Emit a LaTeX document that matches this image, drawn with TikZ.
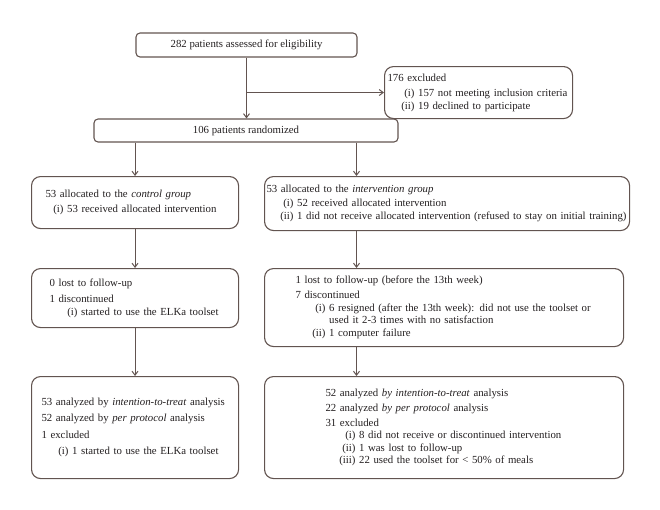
\documentclass[tikz,border=0pt]{standalone}
\usepackage{fontspec}
\setmainfont{Liberation Serif}
\usetikzlibrary{arrows.meta}
\definecolor{boxline}{RGB}{98,84,80}
\definecolor{ink}{RGB}{35,31,32}
\newcommand{\itm}[2][27pt]{\makebox[#1][r]{#2}\ }

\begin{document}
\begin{tikzpicture}[x=1pt, y=-1pt,
	box/.style={draw=boxline, line width=1.1pt, rounded corners=#1, text=ink, inner ysep=0pt,
		font=\fontsize{10.8}{12.5}\selectfont},
	box/.default=9pt,
	lbox/.style={box, anchor=north west, align=left},
	arr/.style={draw=boxline, line width=1pt, -{Straight Barb[length=4pt,width=6pt]}}]
	\useasboundingbox (0,0) rectangle (660,509);
	\node[box=4pt, minimum width=221pt, minimum height=24pt] (assess) at (246.5,45) {282 patients assessed for eligibility};
	\node[lbox, minimum height=52pt, inner xsep=3pt, text width=182pt] (excl) at (384,66)
		{176 excluded\\[3pt] \itm{(i)}157 not meeting inclusion criteria\\ \itm{(ii)}19 declined to participate};
	\node[box=4pt, minimum width=304pt, minimum height=23pt] (rand) at (246,130.5) {106 patients randomized};
	\node[lbox, minimum height=52pt, inner xsep=14pt, text width=179pt] (ctl1) at (31,176)
		{53 allocated to the \textit{control group}\\[3pt] \itm[18pt]{(i)}53 received allocated intervention};
	\node[lbox, minimum height=54pt, inner xsep=2pt, text width=361pt] (int1) at (264,176)
		{53 allocated to the \textit{intervention group}\\[1.5pt] \itm{(i)}52 received allocated intervention\\
		\itm{(ii)}1 did not receive allocated intervention (refused to stay on initial training)};
	\node[lbox, minimum height=59pt, inner xsep=18pt, text width=171pt] (ctl2) at (31,268)
		{0 lost to follow-up\\[3.5pt] 1 discontinued\\[0.5pt] \itm[28pt]{(i)}started to use the ELKa toolset};
	\node[lbox=11pt, minimum height=78pt, inner xsep=31pt, text width=297pt] (int2) at (264,268)
		{1 lost to follow-up (before the 13th week)\\[2.5pt] 7 discontinued\\
		\itm[30pt]{(i)}6 resigned (after the 13th week): did not use the toolset or\\
		\itm[30pt]{}used it 2-3 times with no satisfaction\\ \itm[30pt]{(ii)}1 computer failure};
	\node[lbox=13pt, minimum height=102pt, inner xsep=10pt, text width=187pt] (ctl3) at (31,376)
		{53 analyzed by \textit{intention-to-treat} analysis\\[4pt] 52 analyzed by \textit{per protocol} analysis\\[4pt]
		1 excluded\\[4pt] \itm[27pt]{(i)}1 started to use the ELKa toolset};
	\node[lbox=13pt, minimum height=102pt, inner xsep=61pt, text width=237pt] (int3) at (264,376)
		{52 analyzed \textit{by intention-to-treat} analysis\\[2.5pt] 22 analyzed \textit{by per protocol} analysis\\[2.5pt]
		31 excluded\\ \itm[30pt]{(i)}8 did not receive or discontinued intervention\\
		\itm[30pt]{(ii)}1 was lost to follow-up\\ \itm[30pt]{(iii)}22 used the toolset for < 50\% of meals};
	\draw[arr] (assess.south) -- (assess.south |- rand.north);
	\draw[arr] (assess.south |- excl.west) -- (excl.west);
	\draw[arr] (rand.south -| ctl1.north) -- (ctl1.north);
	\draw[arr] ([xshift=92.5pt]int1.north west |- rand.south) -- ([xshift=92.5pt]int1.north west);
	\draw[arr] (ctl1) -- (ctl2);
	\draw[arr] (ctl2) -- (ctl3);
	\draw[arr] ([xshift=92.5pt]int1.south west) -- ([xshift=92.5pt]int2.north west);
	\draw[arr] ([xshift=92.5pt]int2.south west) -- ([xshift=92.5pt]int3.north west);
\end{tikzpicture}
\end{document}
